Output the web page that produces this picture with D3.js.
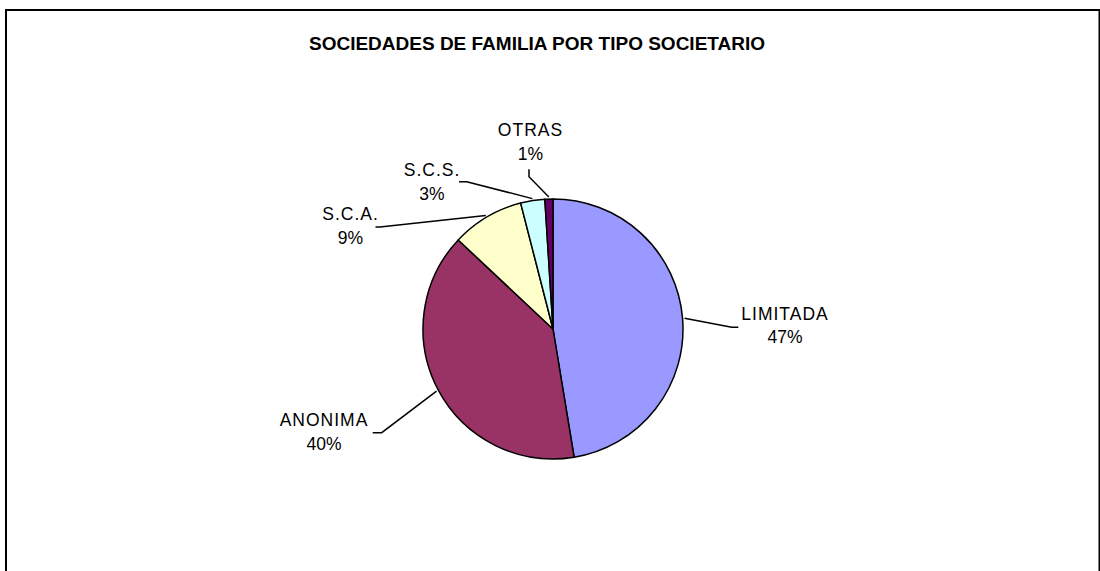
<!DOCTYPE html>
<html>
<head>
<meta charset="utf-8">
<script src="https://cdn.jsdelivr.net/npm/d3@7"></script>
<style>
  body { margin: 0; background: #fff; }
  svg { display: block; }
</style>
</head>
<body>
<div id="chart"></div>
<script>
// data
let categories = ['LIMITADA', 'ANONIMA', 'S.C.A.', 'S.C.S.', 'OTRAS']
let shares = [47.4, 39.6, 9.0, 3.0, 1.0]
let pctLabels = ['47%', '40%', '9%', '3%', '1%']
let colors = ['#9999FF', '#993366', '#FFFFCC', '#CCFFFF', '#660066']

let width = 1100
let height = 571

let cx = 553
let cy = 329
let radius = 130

// where Excel left each label (relative to the pie centre): elbow, end of leader, text
let labelLayout = {
  'LIMITADA': { elbow: [178.7, -1.7], end: [185.3, -1.7], text: [232, -9.5] },
  'ANONIMA': { elbow: [-171.3, 103.7], end: [-180.3, 103.7], text: [-229, 96.7] },
  'S.C.A.': { elbow: [-173, -102], end: [-177.5, -102], text: [-202.5, -109] },
  'S.C.S.': { elbow: [-86.3, -147.3], end: [-94, -147.3], text: [-121, -153.3] },
  'OTRAS': { elbow: [-24, -152.3], end: [-24, -159.7], text: [-22.5, -193] }
}

let svg = d3
  .select('#chart')
  .append('svg')
  .attr('width', width)
  .attr('height', height)

// chart border
svg
  .append('rect')
  .attr('x', 6)
  .attr('y', 10)
  .attr('width', 1093.5)
  .attr('height', 580)
  .attr('fill', 'none')
  .attr('stroke', '#000')
  .attr('stroke-width', 2)

svg
  .append('text')
  .attr('x', 537)
  .attr('y', 49.5)
  .attr('text-anchor', 'middle')
  .attr('font-family', 'Liberation Sans, Arial, sans-serif')
  .attr('font-weight', 'bold')
  .attr('font-size', 19)
  .text('SOCIEDADES DE FAMILIA POR TIPO SOCIETARIO')

let data = categories.map((c, i) => ({
  name: c,
  value: shares[i],
  pct: pctLabels[i],
  color: colors[i]
}))

let pie = d3
  .pie()
  .sort(null)
  .value(d => d.value)

let arc = d3.arc().innerRadius(0).outerRadius(radius)

let g = svg.append('g').attr('transform', `translate(${cx},${cy})`)

let slices = pie(data)

g.selectAll('.slice')
  .data(slices)
  .enter()
  .append('path')
  .attr('class', 'slice')
  .attr('d', arc)
  .attr('fill', d => d.data.color)
  .attr('stroke', '#000')
  .attr('stroke-width', 1.5)
  .attr('stroke-linejoin', 'round')

// leader lines start on the rim at the middle of each slice
g.selectAll('.leader')
  .data(slices)
  .enter()
  .append('polyline')
  .attr('class', 'leader')
  .attr('points', d => {
    let mid = (d.startAngle + d.endAngle) / 2
    let lay = labelLayout[d.data.name]
    let start = [Math.sin(mid) * (radius + 2), -Math.cos(mid) * (radius + 2)]
    return [start, lay.elbow, lay.end].map(p => p.join(',')).join(' ')
  })
  .attr('fill', 'none')
  .attr('stroke', '#000')
  .attr('stroke-width', 1.5)

let labels = g
  .selectAll('.label')
  .data(slices)
  .enter()
  .append('text')
  .attr('class', 'label')
  .attr('text-anchor', 'middle')
  .attr('font-family', 'Liberation Sans, Arial, sans-serif')
  .attr('font-size', 17.5)
  .attr('fill', '#000')

labels
  .append('tspan')
  .attr('x', d => labelLayout[d.data.name].text[0])
  .attr('y', d => labelLayout[d.data.name].text[1])
  .attr('letter-spacing', 1)
  .text(d => d.data.name)

labels
  .append('tspan')
  .attr('x', d => labelLayout[d.data.name].text[0])
  .attr('y', d => labelLayout[d.data.name].text[1] + 23.8)
  .text(d => d.data.pct)
</script>
</body>
</html>
